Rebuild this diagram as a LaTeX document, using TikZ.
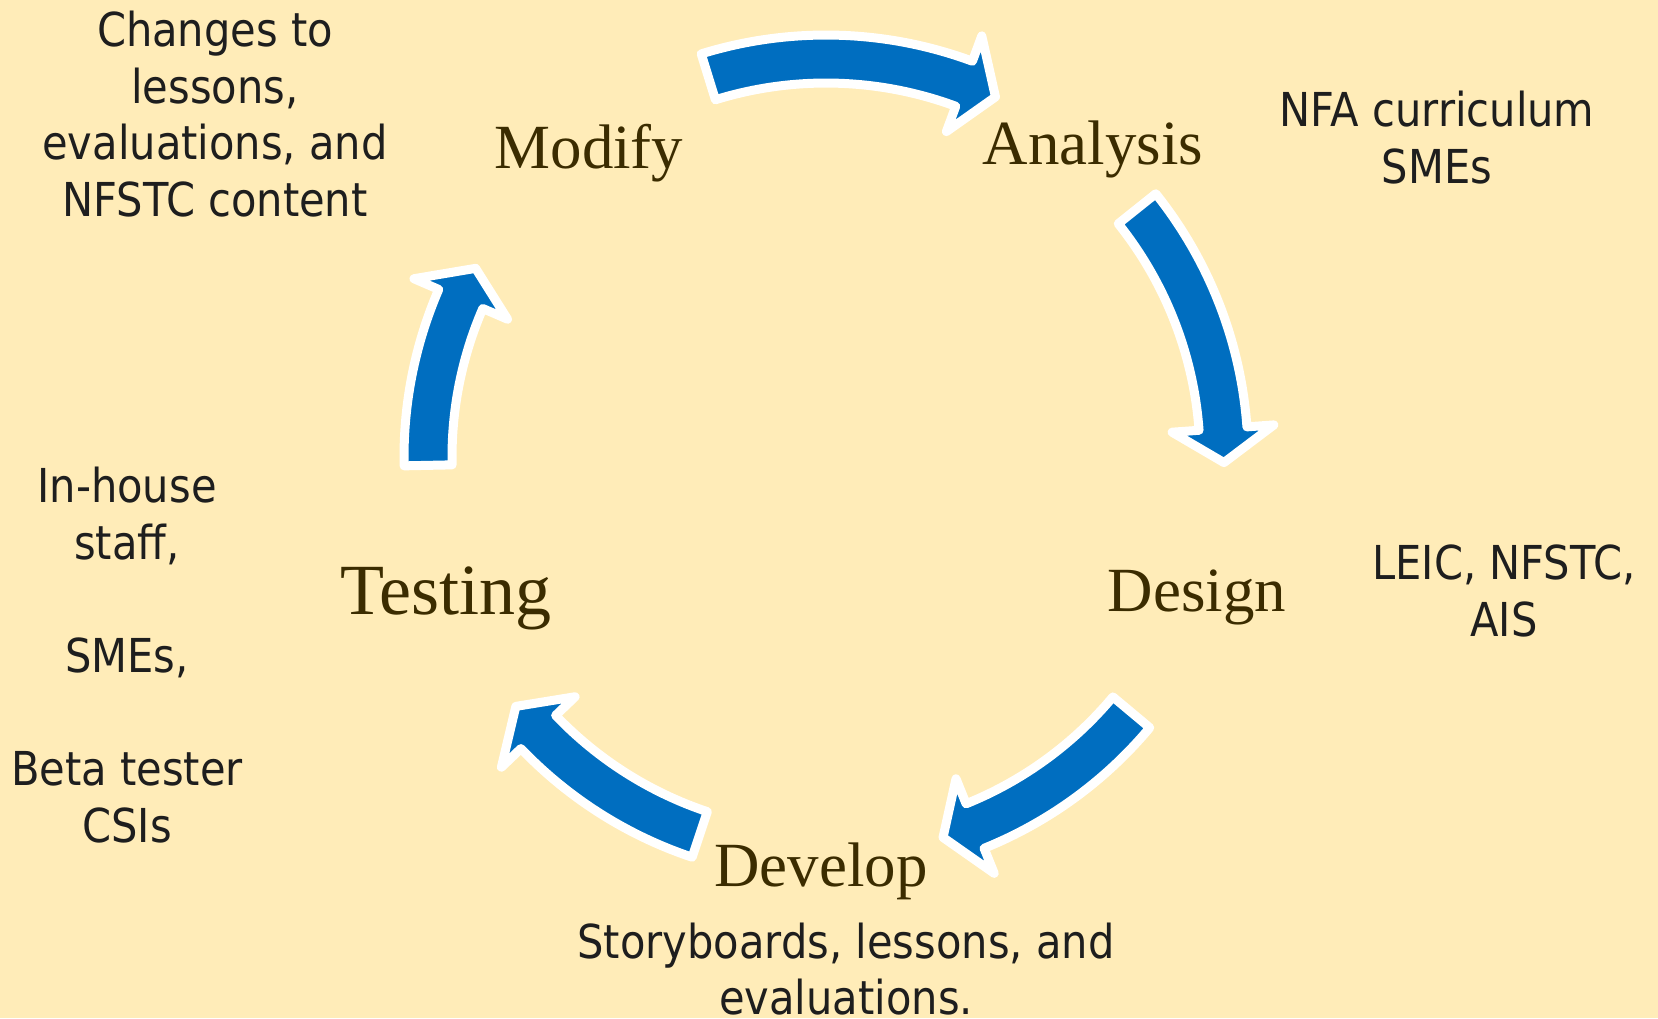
\documentclass[tikz,border=0pt]{standalone}
\usepackage{fontspec}
\newfontfamily\notefont[FakeStretch=0.89]{DejaVu Sans}
\newfontfamily\stagefont{Liberation Serif}
\definecolor{bgyellow}{HTML}{FFECB8}
\definecolor{cycleblue}{HTML}{006EC0}
\definecolor{stagebrown}{HTML}{3B2C00}
\definecolor{notegray}{HTML}{1E1E1E}
\newcommand{\cyclearrow}[2]{%
  \draw[blockarrow] (#1:4.22) arc[start angle=#1, end angle=#2+4.9, radius=4.22]
    --({#2+4.9}:4.49)--(#2:3.98)--({#2+4.9}:3.47)--({#2+4.9}:3.74)
    arc[start angle=#2+4.9, end angle=#1, radius=3.74]--cycle;}
\begin{document}
\begin{tikzpicture}[blockarrow/.style={fill=cycleblue, draw=white, line width=0.9mm, line join=round},
  stage/.style={font=\stagefont\fontsize{17.9}{20}\selectfont, text=stagebrown, anchor=base, inner sep=0},
  note/.style={font=\notefont\fontsize{13.3}{16.1}\selectfont, text=notegray, align=center, inner sep=0}]

\useasboundingbox (0,0) rectangle (16.58,-10.18);
\fill[bgyellow] (0,0) rectangle (16.58,-10.18);

\begin{scope}[shift={(8.26,-4.57)}]
\cyclearrow{107.2}{64.8}
\cyclearrow{38.6}{-0.8}
\cyclearrow{-39.9}{-72.9}
\cyclearrow{-108.5}{-141.2}
\cyclearrow{181.2}{151.7}
\end{scope}

\node[stage] (modify) at (5.89,-1.68) {Modify};
\node[stage] (analysis) at (10.93,-1.64) {Analysis};
\node[stage] (design) at (11.97,-6.11) {Design};
\node[stage] (develop) at (8.21,-8.86) {Develop};
\node[stage, font=\stagefont\fontsize{20.5}{24}\selectfont] (testing) at (4.46,-6.14) {Testing};

\node[note] (changes) at (2.15,-1.14) {Changes to\\lessons,\\evaluations, and\\NFSTC content};
\node[note] (nfa) at (14.37,-1.375) {NFA curriculum\\SMEs};
\node[note] (leic) at (15.04,-5.91) {LEIC, NFSTC,\\AIS};
\node[note] (staff) at (1.27,-6.55) {In-house\\staff,\\[16.1pt]SMEs,\\[16.1pt]Beta tester\\CSIs};
\node[note] (story) at (8.46,-9.69) {Storyboards, lessons, and\\evaluations.};
\end{tikzpicture}
\end{document}
